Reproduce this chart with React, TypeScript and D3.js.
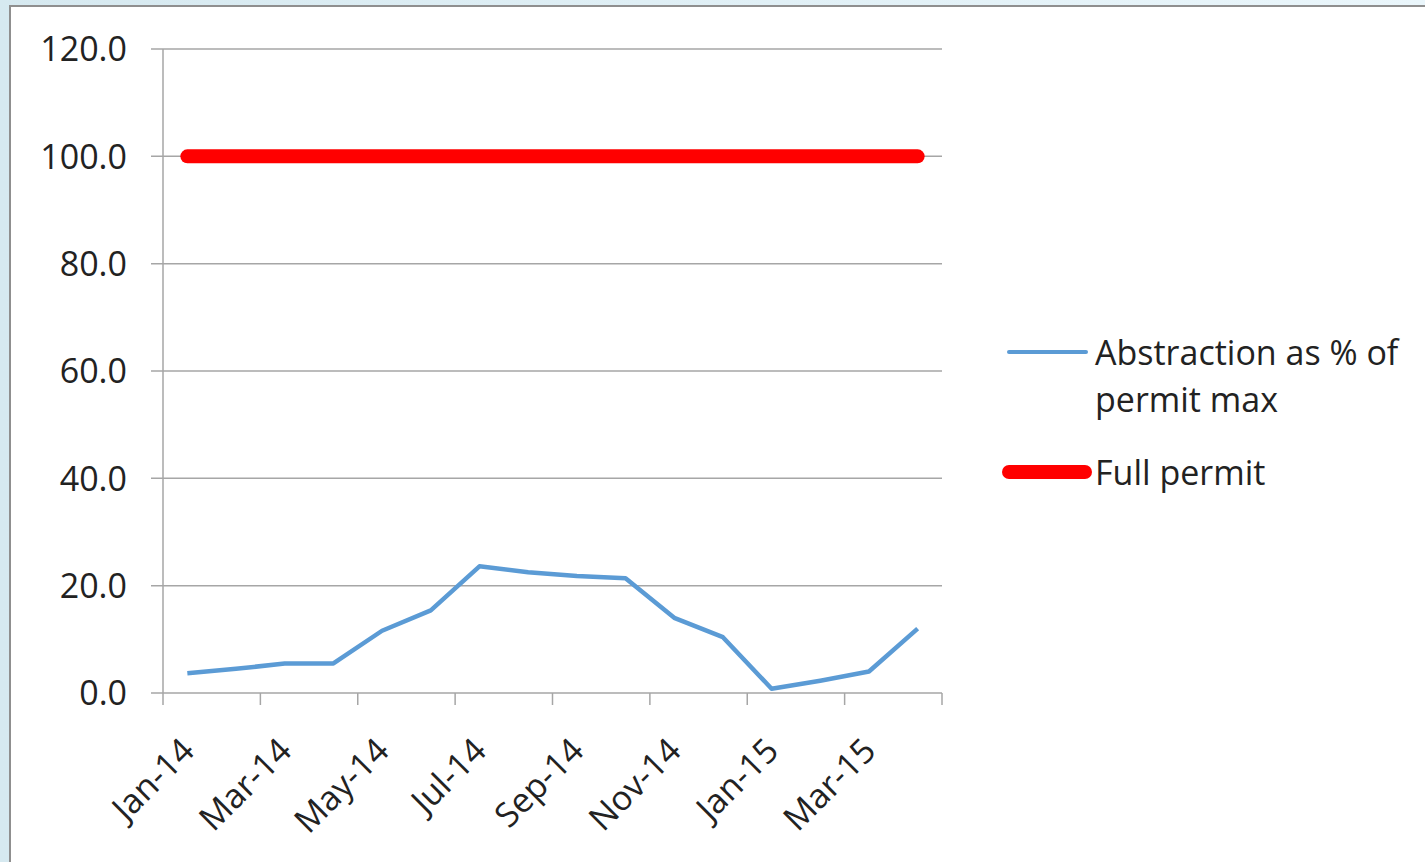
import React from 'react'
import * as d3 from 'd3'

const W = 1425
const H = 862
const FONT = '"Open Sans", sans-serif'
const FS = 34

// Monthly categories on the x axis
const months = [
  'Jan-14', 'Feb-14', 'Mar-14', 'Apr-14', 'May-14', 'Jun-14', 'Jul-14', 'Aug-14',
  'Sep-14', 'Oct-14', 'Nov-14', 'Dec-14', 'Jan-15', 'Feb-15', 'Mar-15', 'Apr-15'
]

// Abstraction as % of permit max
const abstraction = [3.7, 4.5, 5.5, 5.5, 11.6, 15.4, 23.6, 22.5, 21.8, 21.4, 14.0, 10.4, 0.8, 2.3, 4.0, 12.0]

// Full permit
const fullPermit = months.map(() => 100)

const yTicks = [0, 20, 40, 60, 80, 100, 120]

const legendItems = [
  { lines: ['Abstraction as % of', 'permit max'], color: '#5b9bd5', width: 4 },
  { lines: ['Full permit'], color: '#ff0000', width: 14 }
]

export default function App() {
  const plot = { left: 163, right: 942, top: 49, bottom: 693 }

  const x = d3.scaleBand<string>()
    .domain(months)
    .range([plot.left, plot.right])
    .padding(0)

  const y = d3.scaleLinear()
    .domain([0, 120])
    .range([plot.bottom, plot.top])

  const cx = (m: string) => (x(m) ?? 0) + x.bandwidth() / 2

  const line = d3.line<number>()
    .x((_, i) => cx(months[i]))
    .y(d => y(d))

  // tick marks at every second category boundary
  const boundaries = d3.range(0, months.length + 1, 2).map(i =>
    i < months.length ? (x(months[i]) ?? 0) : plot.right
  )

  const gridColor = '#a6a6a6'

  return (
    <svg width={W} height={H} style={{ position: 'absolute', left: 0, top: 0 }}>
      <defs>
        <linearGradient id="bg" x1="0" y1="0" x2="1" y2="0">
          <stop offset="0%" stopColor="#d6e9f0" />
          <stop offset="100%" stopColor="#eaf6fb" />
        </linearGradient>
      </defs>
      <rect width={W} height={H} fill="url(#bg)" />
      <rect x={10} y={6} width={W} height={H} fill="#fff" stroke="#8f8f8f" strokeWidth={2} />

      {/* gridlines + y labels */}
      {yTicks.map(t => (
        <g key={t}>
          <line x1={plot.left - 12} x2={plot.right} y1={y(t)} y2={y(t)} stroke={gridColor} strokeWidth={1.5} />
          <text x={127} y={y(t)} dy="0.36em" textAnchor="end" fontFamily={FONT} fontSize={FS} fill="#222">
            {t.toFixed(1)}
          </text>
        </g>
      ))}

      {/* y axis */}
      <line x1={plot.left} x2={plot.left} y1={plot.top} y2={plot.bottom} stroke={gridColor} strokeWidth={1.5} />

      {/* x tick marks */}
      {boundaries.map((b, i) => (
        <line key={i} x1={b} x2={b} y1={plot.bottom} y2={plot.bottom + 12} stroke={gridColor} strokeWidth={1.5} />
      ))}

      {/* x labels */}
      {months.filter((_, i) => i % 2 === 0).map(m => {
        const ax = cx(m) - 8
        const ay = plot.bottom + 43
        return (
          <text
            key={m}
            x={ax}
            y={ay}
            textAnchor="end"
            dy="0.7em"
            transform={`rotate(-45 ${ax} ${ay})`}
            fontFamily={FONT}
            fontSize={FS}
            fill="#222"
          >
            {m}
          </text>
        )
      })}

      {/* series */}
      <path d={line(fullPermit) ?? ''} fill="none" stroke="#ff0000" strokeWidth={14} strokeLinecap="round" />
      <path d={line(abstraction) ?? ''} fill="none" stroke="#5b9bd5" strokeWidth={4.5} strokeLinejoin="round" />

      {/* legend */}
      <g>
        <line x1={1009} x2={1086} y1={352} y2={352} stroke={legendItems[0].color} strokeWidth={legendItems[0].width} strokeLinecap="round" />
        <text x={1095} y={365} fontFamily={FONT} fontSize={FS} fill="#222">
          {legendItems[0].lines.map((l, i) => (
            <tspan key={i} x={1095} dy={i === 0 ? 0 : 47}>{l}</tspan>
          ))}
        </text>
        <line x1={1009} x2={1085} y1={472} y2={472} stroke={legendItems[1].color} strokeWidth={legendItems[1].width} strokeLinecap="round" />
        <text x={1095} y={485} fontFamily={FONT} fontSize={FS} fill="#222">{legendItems[1].lines[0]}</text>
      </g>
    </svg>
  )
}
